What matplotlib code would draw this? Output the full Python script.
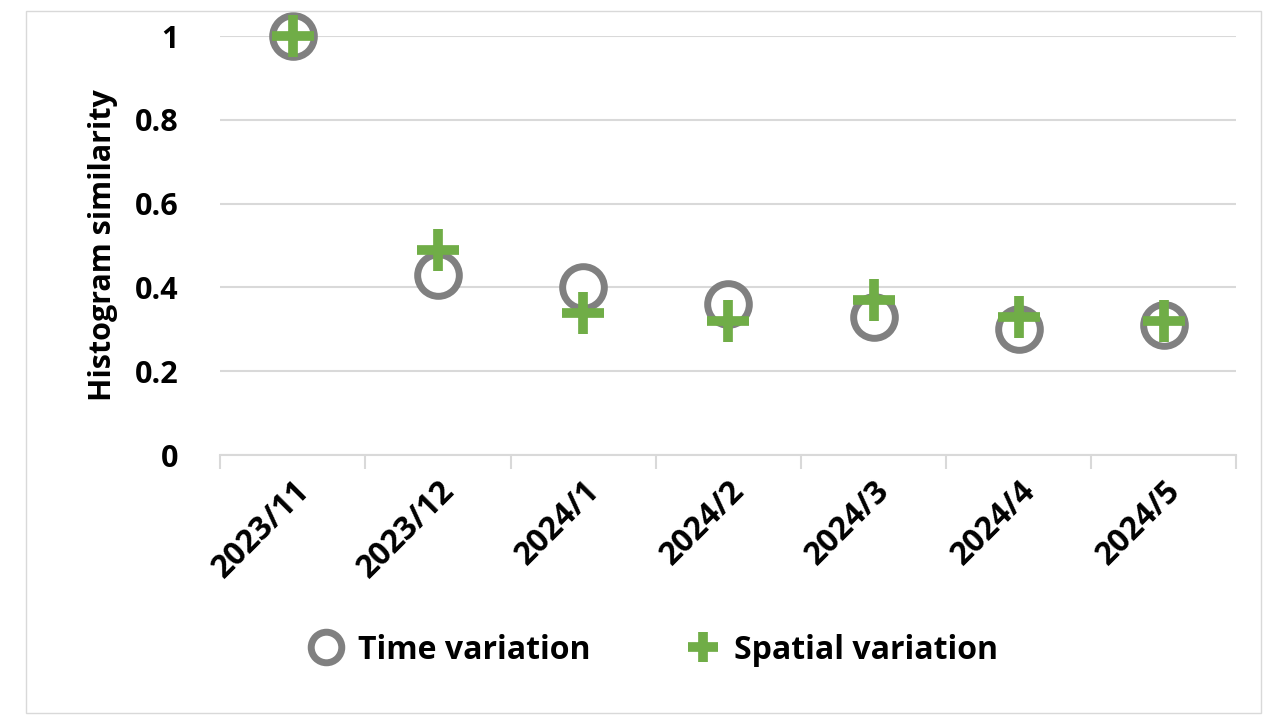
import numpy as np
import matplotlib.pyplot as plt
from matplotlib.patches import Rectangle
from matplotlib.lines import Line2D

months = ['2023/11', '2023/12', '2024/1', '2024/2', '2024/3', '2024/4', '2024/5']
time_var = [1.0, 0.43, 0.40, 0.36, 0.33, 0.30, 0.31]
spatial_var = [1.0, 0.49, 0.34, 0.32, 0.37, 0.33, 0.32]

plt.rcParams['font.family'] = ['Open Sans', 'DejaVu Sans']
plt.rcParams['font.weight'] = 'bold'

fig = plt.figure(figsize=(12.8, 7.2), dpi=100)
fig.patches.append(Rectangle((0.02, 0.01), 0.965, 0.975, transform=fig.transFigure,
                             fill=False, edgecolor='#d9d9d9', linewidth=1))
ax = fig.add_axes([0.172, 0.368, 0.794, 0.582])
x = np.arange(len(months))
ax.plot(x, time_var, linestyle='none', marker='o', markersize=30, mfc='white',
        mec='#808080', mew=5, zorder=3, clip_on=False)
ax.plot(x, spatial_var, linestyle='none', marker='+', markersize=30, mew=7,
        color='#70ad47', zorder=4, clip_on=False)

ax.set_xlim(-0.5, len(months) - 0.5)
ax.set_ylim(0, 1.0)
ax.set_yticks([0, 0.2, 0.4, 0.6, 0.8, 1.0])
ax.set_yticklabels(['0', '0.2', '0.4', '0.6', '0.8', '1'], fontsize=22, fontweight='bold')
ax.yaxis.grid(True, color='#d9d9d9', linewidth=1.5)
ax.set_axisbelow(True)
ax.tick_params(axis='y', length=0, pad=30)
ax.set_xticks(x)
ax.set_xticklabels(months, rotation=45, ha='right', rotation_mode='anchor',
                   fontsize=23, fontweight='bold')
ax.set_xticks(np.arange(-0.5, len(months)), minor=True)
ax.tick_params(axis='x', which='major', length=0, pad=14)
ax.tick_params(axis='x', which='minor', length=10, color='#d9d9d9', width=1.5)
for s in ['top', 'right', 'left']:
    ax.spines[s].set_visible(False)
ax.spines['bottom'].set_color('#d9d9d9')
ax.spines['bottom'].set_linewidth(1.5)
ax.set_ylabel('Histogram similarity', fontsize=22, fontweight='bold', labelpad=12)

handles = [Line2D([], [], linestyle='none', marker='o', markersize=22, mfc='white',
                  mec='#808080', mew=5),
           Line2D([], [], linestyle='none', marker='+', markersize=22, mew=7, color='#70ad47')]
fig.legend(handles, ['Time variation', 'Spatial variation'], loc='center',
           bbox_to_anchor=(0.505, 0.097), ncol=2, frameon=False,
           handletextpad=0.0, columnspacing=2.5, prop={'size': 23, 'weight': 'bold'})
fig.savefig('out.png', dpi=100)
